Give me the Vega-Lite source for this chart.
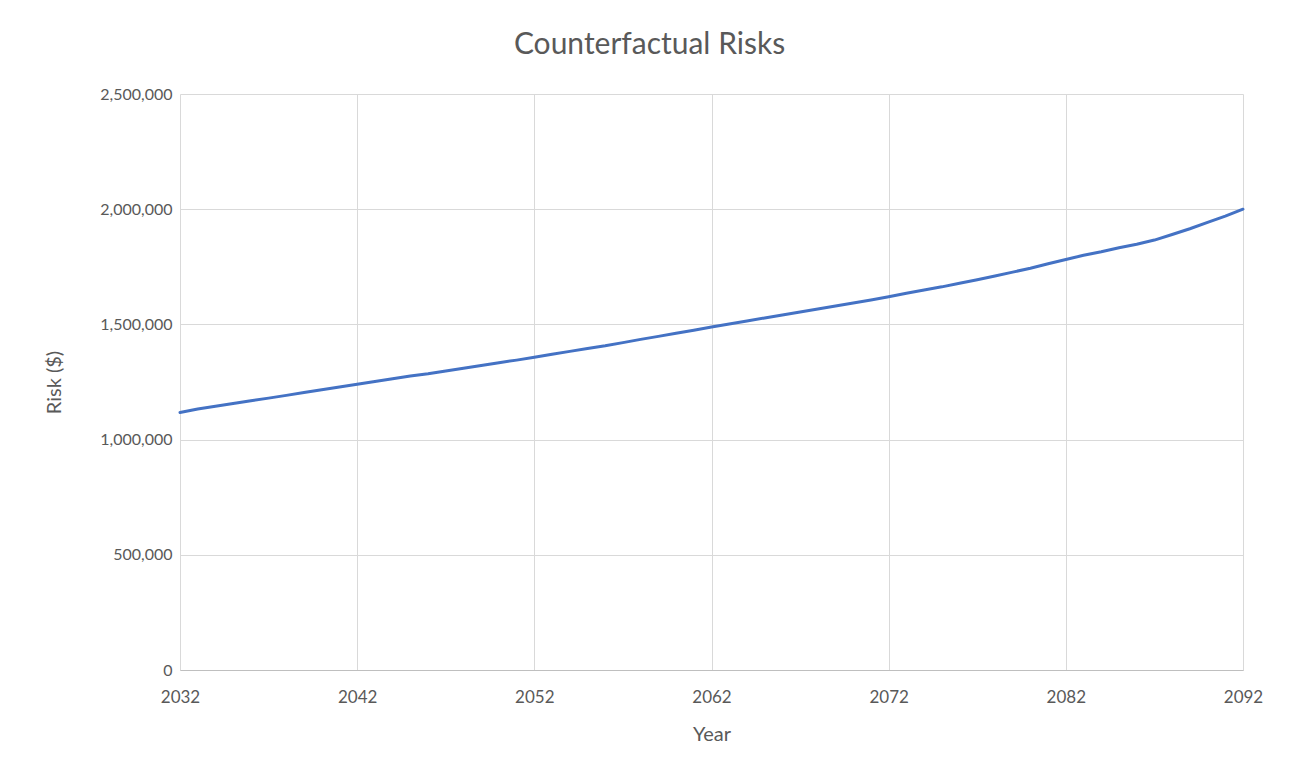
{
  "$schema": "https://vega.github.io/schema/vega-lite/v6.json",
  "width": 1063,
  "height": 576,
  "autosize": {"type": "none"},
  "padding": {"left": 180, "top": 94, "right": 47, "bottom": 101},
  "background": "white",
  "title": {
    "text": "Counterfactual Risks",
    "font": "Lato",
    "fontSize": 30,
    "fontWeight": "normal",
    "color": "#595959",
    "anchor": "middle",
    "frame": "group",
    "dx": -62,
    "baseline": "alphabetic",
    "offset": 2
  },
  "config": {
    "view": {"stroke": null},
    "font": "Lato"
  },
  "data": {
    "values": [
      {"year": 2032, "risk": 1118000}, {"year": 2033, "risk": 1133000}, {"year": 2034, "risk": 1145000},
      {"year": 2035, "risk": 1157000}, {"year": 2036, "risk": 1169000}, {"year": 2037, "risk": 1180000},
      {"year": 2038, "risk": 1192000}, {"year": 2039, "risk": 1204000}, {"year": 2040, "risk": 1216000},
      {"year": 2041, "risk": 1228000}, {"year": 2042, "risk": 1240000}, {"year": 2043, "risk": 1252000},
      {"year": 2044, "risk": 1264000}, {"year": 2045, "risk": 1276000}, {"year": 2046, "risk": 1286000},
      {"year": 2047, "risk": 1298000}, {"year": 2048, "risk": 1310000}, {"year": 2049, "risk": 1322000},
      {"year": 2050, "risk": 1334000}, {"year": 2051, "risk": 1345000}, {"year": 2052, "risk": 1357000},
      {"year": 2053, "risk": 1370000}, {"year": 2054, "risk": 1383000}, {"year": 2055, "risk": 1395000},
      {"year": 2056, "risk": 1407000}, {"year": 2057, "risk": 1421000}, {"year": 2058, "risk": 1435000},
      {"year": 2059, "risk": 1448000}, {"year": 2060, "risk": 1462000}, {"year": 2061, "risk": 1475000},
      {"year": 2062, "risk": 1489000}, {"year": 2063, "risk": 1502000}, {"year": 2064, "risk": 1515000},
      {"year": 2065, "risk": 1528000}, {"year": 2066, "risk": 1541000}, {"year": 2067, "risk": 1554000},
      {"year": 2068, "risk": 1567000}, {"year": 2069, "risk": 1580000}, {"year": 2070, "risk": 1593000},
      {"year": 2071, "risk": 1606000}, {"year": 2072, "risk": 1620000}, {"year": 2073, "risk": 1635000},
      {"year": 2074, "risk": 1649000}, {"year": 2075, "risk": 1663000}, {"year": 2076, "risk": 1679000},
      {"year": 2077, "risk": 1694000}, {"year": 2078, "risk": 1710000}, {"year": 2079, "risk": 1727000},
      {"year": 2080, "risk": 1744000}, {"year": 2081, "risk": 1763000}, {"year": 2082, "risk": 1782000},
      {"year": 2083, "risk": 1800000}, {"year": 2084, "risk": 1815000}, {"year": 2085, "risk": 1833000},
      {"year": 2086, "risk": 1848000}, {"year": 2087, "risk": 1866000}, {"year": 2088, "risk": 1890000},
      {"year": 2089, "risk": 1915000}, {"year": 2090, "risk": 1943000}, {"year": 2091, "risk": 1970000},
      {"year": 2092, "risk": 2000000}
    ]
  },
  "mark": {"type": "line", "color": "#4472C4", "strokeWidth": 3, "strokeCap": "round", "strokeJoin": "round"},
  "encoding": {
    "x": {
      "field": "year",
      "type": "quantitative",
      "scale": {"domain": [2032, 2092], "nice": false, "zero": false},
      "axis": {
        "title": "Year",
        "values": [2032, 2042, 2052, 2062, 2072, 2082, 2092],
        "format": "d",
        "grid": true,
        "gridColor": "#d9d9d9",
        "gridWidth": 1,
        "domainColor": "#bfbfbf",
        "domainWidth": 1,
        "ticks": false,
        "labelPadding": 19,
        "labelFont": "Lato",
        "labelFontSize": 17,
        "labelColor": "#595959",
        "labelFlush": false,
        "titleFont": "Lato",
        "titleFontSize": 20,
        "titleFontWeight": "normal",
        "titleColor": "#595959",
        "titlePadding": 19
      }
    },
    "y": {
      "field": "risk",
      "type": "quantitative",
      "scale": {"domain": [0, 2500000], "nice": false},
      "axis": {
        "title": "Risk ($)",
        "values": [0, 500000, 1000000, 1500000, 2000000, 2500000],
        "format": ",d",
        "grid": true,
        "gridColor": "#d9d9d9",
        "gridWidth": 1,
        "domain": false,
        "ticks": false,
        "labelPadding": 8,
        "labelFont": "Lato",
        "labelFontSize": 16,
        "labelColor": "#595959",
        "titleFont": "Lato",
        "titleFontSize": 20,
        "titleFontWeight": "normal",
        "titleColor": "#595959",
        "titlePadding": 35
      }
    }
  }
}
